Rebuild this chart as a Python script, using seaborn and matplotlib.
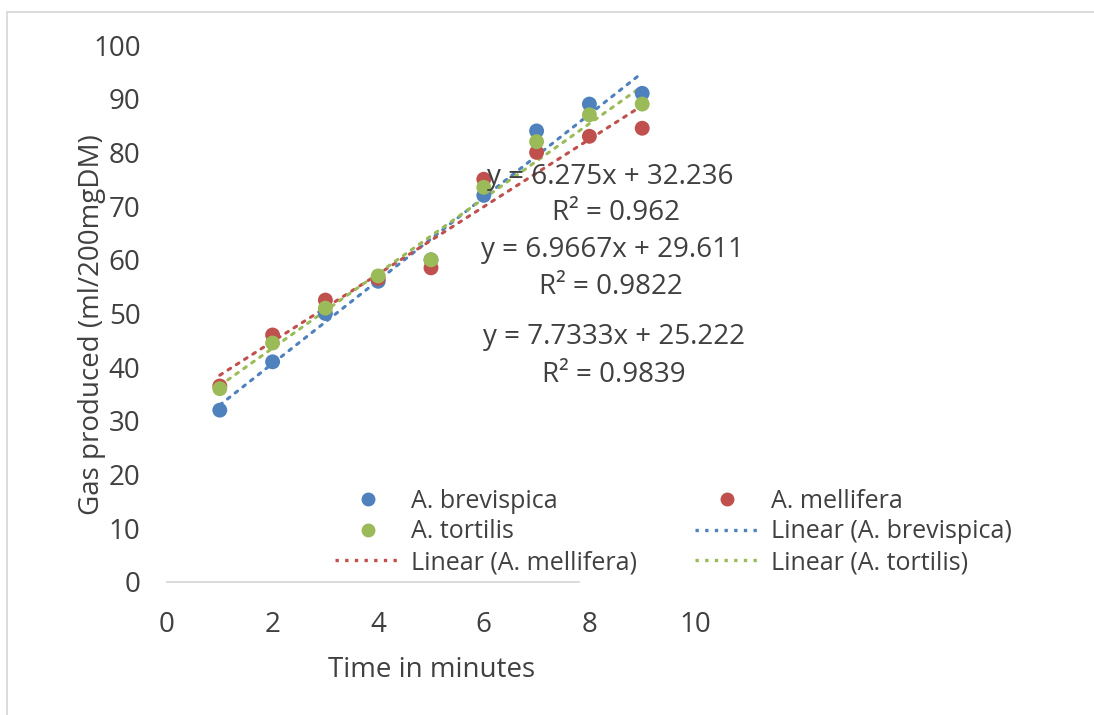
import numpy as np
import pandas as pd
import matplotlib
matplotlib.use("Agg")
import matplotlib.pyplot as plt
import seaborn as sns
from matplotlib.lines import Line2D

# ---- data ----
time_min = [1, 2, 3, 4, 5, 6, 7, 8, 9]
brevispica = [32, 41, 50, 56, 60, 72, 84, 89, 91]
mellifera = [36.5, 46, 52.5, 56.5, 58.5, 75, 80, 83, 84.5]
tortilis = [36, 44.5, 51, 57, 60, 73.5, 82, 87, 89]
series_names = ["A. brevispica", "A. mellifera", "A. tortilis"]
eq_texts = ["y = 6.275x + 32.236", "R² = 0.962",
            "y = 6.9667x + 29.611", "R² = 0.9822",
            "y = 7.7333x + 25.222", "R² = 0.9839"]
x_ticks = [0, 2, 4, 6, 8, 10]
y_ticks = [0, 10, 20, 30, 40, 50, 60, 70, 80, 90, 100]

colors = {"A. brevispica": "#4F81BD", "A. mellifera": "#C0504D", "A. tortilis": "#9BBB59"}

sns.set_theme(style="white")
plt.rcParams['font.family'] = ['Open Sans', 'DejaVu Sans']
FS = 20
LFS = 18
TXT = "#404040"

df = pd.DataFrame({
    "time": time_min * 3,
    "gas": brevispica + mellifera + tortilis,
    "species": [series_names[0]] * 9 + [series_names[1]] * 9 + [series_names[2]] * 9,
})

W, H = 1094, 715
fig = plt.figure(figsize=(W / 100, H / 100), dpi=100)
ax = fig.add_axes([167 / W, 1 - 582 / H, (695 - 167) / W, (582 - 45) / H])

# trendlines (linear fits across data range)
for name in series_names:
    sub = df[df.species == name]
    m, b = np.polyfit(sub.time, sub.gas, 1)
    xs = np.array([min(time_min), max(time_min)])
    ax.plot(xs, m * xs + b, linestyle=(0, (1, 2.2)), color=colors[name], lw=2.2,
            dash_capstyle="round", zorder=2)

sns.scatterplot(data=df, x="time", y="gas", hue="species", palette=colors, s=115,
                edgecolor="none", ax=ax, legend=False, zorder=3)

ax.set_xlim(0, 10)
ax.set_ylim(0, 100)
ax.set_xticks(x_ticks)
ax.set_yticks(y_ticks)
ax.tick_params(axis="both", length=0, labelsize=FS, colors=TXT)
ax.tick_params(axis="x", pad=21)
ax.tick_params(axis="y", pad=19)
for s in ["top", "right", "left"]:
    ax.spines[s].set_visible(False)
ax.spines["bottom"].set_color("#D9D9D9")
ax.spines["bottom"].set_linewidth(1.3)
ax.spines["bottom"].set_bounds(0, 7.8)
ax.set_xlabel("Time in minutes", fontsize=FS, color=TXT)
ax.set_ylabel("Gas produced (ml/200mgDM)", fontsize=FS, color=TXT)
ax.xaxis.set_label_coords((432 - 167) / 528, (582 - 670) / 537)
ax.xaxis.label.set_va("center")
ax.yaxis.set_label_coords((92 - 167) / 528, (582 - 325) / 537)
ax.yaxis.label.set_va("center")

# equation labels
eq_pos = [(610, 177), (616, 213), (612, 250), (611, 287), (614, 337), (614, 375)]
for t, (px, py) in zip(eq_texts, eq_pos):
    fig.text(px / W, 1 - py / H, t, ha="center", va="center", fontsize=FS, color=TXT)

# legend
def dot(c):
    return Line2D([], [], marker="o", linestyle="none", color=c, markersize=9)

def dline(c):
    return Line2D([], [], linestyle=(0, (1, 1.9)), color=c, lw=2.4)

handles = [dot(colors["A. brevispica"]), dot(colors["A. tortilis"]), dline(colors["A. mellifera"]),
           dot(colors["A. mellifera"]), dline(colors["A. brevispica"]), dline(colors["A. tortilis"])]
labels = ["A. brevispica", "A. tortilis", "Linear (A. mellifera)",
          "A. mellifera", "Linear (A. brevispica)", "Linear (A. tortilis)"]
leg = fig.legend(handles, labels, ncol=2, loc="center left",
                 bbox_to_anchor=(335 / W, 1 - 532 / H), frameon=False, fontsize=LFS,
                 handlelength=2.6, handletextpad=0.45, columnspacing=2.3,
                 labelspacing=0.22, borderpad=0.0, borderaxespad=0.0)
for t in leg.get_texts():
    t.set_color(TXT)

# outer chart border (top and left)
fig.add_artist(Line2D([7 / W, 1], [1 - 12 / H, 1 - 12 / H], color="#D9D9D9", lw=1.3,
                      transform=fig.transFigure))
fig.add_artist(Line2D([7 / W, 7 / W], [0, 1 - 12 / H], color="#D9D9D9", lw=1.3,
                      transform=fig.transFigure))

fig.savefig("out.png", dpi=100, facecolor="white")
